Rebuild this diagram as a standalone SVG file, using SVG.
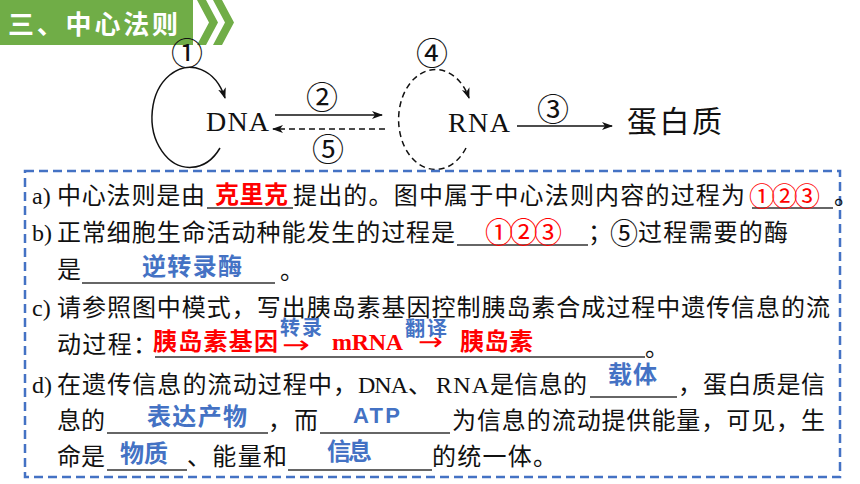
<svg xmlns="http://www.w3.org/2000/svg" width="860" height="484" viewBox="0 0 860 484">
<defs>
<marker id="ah" markerUnits="userSpaceOnUse" markerWidth="12" markerHeight="10" refX="10" refY="4" orient="auto">
<path d="M0,0 L11,4 L0,8 L3,4 z" fill="#111"/>
</marker>
<style>
.cjk{font-family:"Noto Sans CJK SC","Noto Sans",sans-serif;font-size:24px;fill:#111}
.ser{font-family:"Liberation Serif","Noto Sans CJK SC",serif;font-size:24px;fill:#111}
.arr{font-family:"DejaVu Sans",sans-serif;font-size:24px;fill:#FF0000}
.red{fill:#FF0000}
.blu{fill:#4472C4;font-weight:bold}
.b{font-weight:bold}
.num{font-family:"Noto Sans CJK SC","DejaVu Sans",sans-serif;font-size:32px;fill:#111;text-anchor:middle}
.cn{font-family:"Noto Sans CJK SC","DejaVu Sans",sans-serif;font-size:26px;fill:#FF0000;text-anchor:middle}
.ln{stroke:#111;stroke-width:1.5;fill:none}
.dash{stroke-dasharray:6 4}
.ul{stroke:#333;stroke-width:1.3}
</style>
</defs>
<rect width="860" height="484" fill="#fff"/>
<g id="header">
<rect x="0" y="0" width="193" height="45" fill="#70AD47"/>
<polygon points="197,0 206,0 218,22.5 206,45 197,45 209,22.5" fill="#70AD47"/>
<polygon points="213,0 222,0 234,22.5 222,45 213,45 225,22.5" fill="#70AD47"/>
<text x="8" y="34" class="cjk" style="fill:#fff;font-size:26px;font-weight:bold" textLength="170">三、中心法则</text>
</g>
<g id="connectors">
<path class="ln" d="M220,148 A38,50 0 1 1 225,98" marker-end="url(#ah)"/>
<path class="ln" d="M275,115 L382,115" marker-end="url(#ah)"/>
<path class="ln dash" d="M385,129 L273,129" marker-end="url(#ah)"/>
<path class="ln dash" d="M466,148 A37,50 0 1 1 469,98" marker-end="url(#ah)"/>
<path class="ln" d="M517,126 L612,126" marker-end="url(#ah)"/>
</g>
<g id="labels">
<text class="num" x="187" y="65">①</text>
<text class="num" x="322" y="109">②</text>
<text class="num" x="553" y="121">③</text>
<text class="num" x="432" y="65">④</text>
<text class="num" x="328" y="161">⑤</text>
</g>
<g id="node-dna"><text class="ser" x="206" y="131" style="font-size:28px" textLength="63">DNA</text></g>
<g id="node-rna"><text class="ser" x="448" y="132" style="font-size:28px" textLength="62">RNA</text></g>
<g id="node-protein"><text class="cjk" x="627" y="132" style="font-size:30px" textLength="95">蛋白质</text></g>
<g id="questions">
<rect x="25" y="171" width="815" height="306" fill="none" stroke="#4472C4" stroke-width="2.5" stroke-dasharray="9 5"/>
<!-- a -->
<text class="ser" x="32" y="204">a)</text>
<text class="cjk" x="57" y="204" textLength="148">中心法则是由</text>
<line class="ul" x1="207" y1="208" x2="293" y2="208"/>
<text class="cjk red b" x="215" y="203" textLength="73">克里克</text>
<text class="cjk" x="293" y="204" textLength="452">提出的。图中属于中心法则内容的过程为</text>
<line class="ul" x1="752" y1="208" x2="833" y2="208"/>
<text class="cn" x="762" y="206">①</text>
<text class="cn" x="784.5" y="206">②</text>
<text class="cn" x="807" y="206">③</text>
<text class="cjk" x="834" y="204">。</text>
<!-- b -->
<text class="ser" x="32" y="241">b)</text>
<text class="cjk" x="57" y="241" textLength="398">正常细胞生命活动种能发生的过程是</text>
<line class="ul" x1="457" y1="245" x2="588" y2="245"/>
<text class="cn" x="499" y="243" style="font-size:28px">①</text>
<text class="cn" x="523.5" y="243" style="font-size:28px">②</text>
<text class="cn" x="548" y="243" style="font-size:28px">③</text>
<text class="cjk" x="588" y="241">；</text>
<text class="cn" x="624" y="244" style="fill:#111;font-size:28px">⑤</text>
<text class="cjk" x="638" y="241" textLength="150">过程需要的酶</text>
<text class="cjk" x="57" y="278">是</text>
<line class="ul" x1="82" y1="283" x2="275" y2="283"/>
<text class="cjk blu" x="142" y="275" textLength="100">逆转录酶</text>
<text class="cjk" x="280" y="279">。</text>
<!-- c -->
<text class="ser" x="32" y="316">c)</text>
<text class="cjk" x="57" y="316" textLength="773">请参照图中模式，写出胰岛素基因控制胰岛素合成过程中遗传信息的流</text>
<text class="cjk" x="57" y="353" textLength="100">动过程：</text>
<line class="ul" x1="155" y1="357" x2="645" y2="357"/>
<text class="cjk red b" x="153" y="350" textLength="125">胰岛素基因</text>
<text class="cjk blu" x="280" y="335" style="font-size:20px" textLength="42">转录</text>
<text class="arr" x="282" y="353" textLength="28" lengthAdjust="spacingAndGlyphs">→</text>
<text class="ser red b" x="332" y="350" textLength="71">mRNA</text>
<text class="cjk blu" x="405" y="336" style="font-size:20px" textLength="42">翻译</text>
<text class="arr" x="418" y="350" textLength="25" lengthAdjust="spacingAndGlyphs">→</text>
<text class="cjk red b" x="460" y="350" textLength="73">胰岛素</text>
<text class="cjk" x="645" y="356">。</text>
<!-- d -->
<text class="ser" x="32" y="393">d)</text>
<text class="cjk" x="57" y="393" textLength="300">在遗传信息的流动过程中，</text>
<text class="ser" x="358" y="393" textLength="50">DNA</text>
<text class="cjk" x="408" y="393">、</text>
<text class="ser" x="436" y="393" textLength="53">RNA</text>
<text class="cjk" x="490" y="393" textLength="97">是信息的</text>
<line class="ul" x1="590" y1="397" x2="677" y2="397"/>
<text class="cjk blu" x="608" y="383" textLength="49">载体</text>
<text class="cjk" x="678" y="393">，</text>
<text class="cjk" x="703" y="393" textLength="122">蛋白质是信</text>
<text class="cjk" x="57" y="429" textLength="48">息的</text>
<line class="ul" x1="107" y1="433" x2="268" y2="433"/>
<text class="cjk blu" x="147" y="425" textLength="100">表达产物</text>
<text class="cjk" x="268" y="429" textLength="50">，而</text>
<line class="ul" x1="320" y1="433" x2="450" y2="433"/>
<text x="353" y="423" style="font-family:'Liberation Sans',sans-serif;font-size:22px" class="blu" textLength="47">ATP</text>
<text class="cjk" x="452" y="429" textLength="373">为信息的流动提供能量，可见，生</text>
<text class="cjk" x="57" y="465" textLength="48">命是</text>
<line class="ul" x1="107" y1="470" x2="187" y2="470"/>
<text class="cjk blu" x="120" y="462" textLength="48">物质</text>
<text class="cjk" x="187" y="465" textLength="100">、能量和</text>
<line class="ul" x1="288" y1="470" x2="432" y2="470"/>
<text class="cjk blu" x="327" y="460" textLength="45">信息</text>
<text class="cjk" x="432" y="465" textLength="125">的统一体。</text>
</g>
</svg>
